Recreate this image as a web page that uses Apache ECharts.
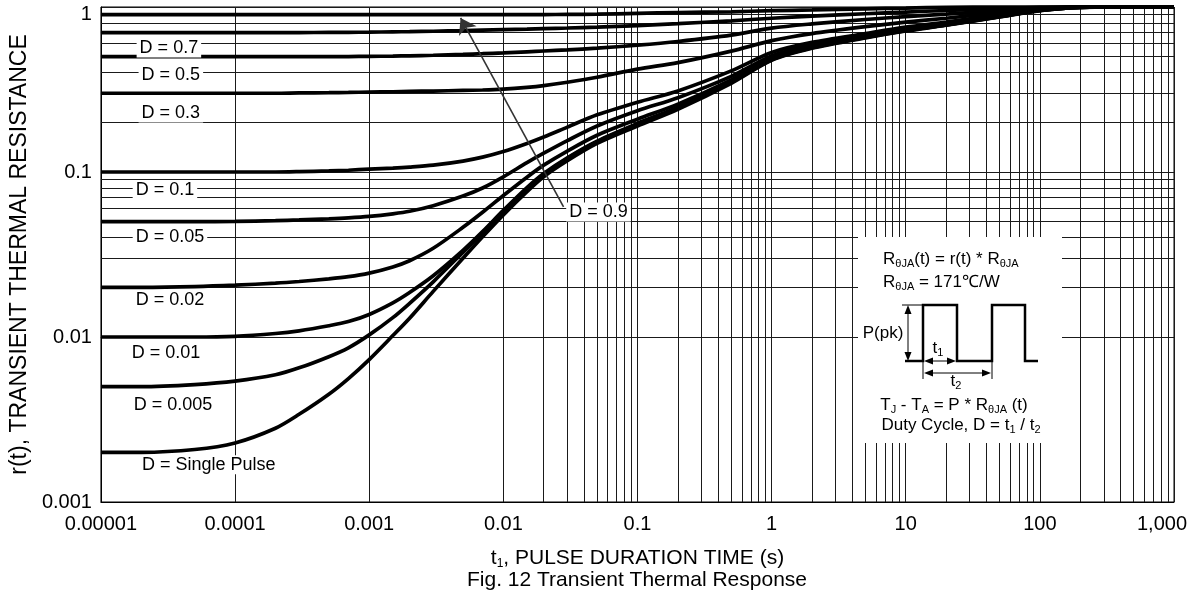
<!DOCTYPE html>
<html>
<head>
<meta charset="utf-8">
<script src="https://cdn.jsdelivr.net/npm/echarts@6/dist/echarts.min.js"></script>
<style>html,body{margin:0;padding:0;background:#fff}#c{width:1199px;height:596px}</style>
</head>
<body>
<div id="c"></div>
<script>
// ---- data ----
const times = [1e-5, 2e-5, 5e-5, 1e-4, 2e-4, 3e-4, 5e-4, 7e-4, 1e-3, 1.5e-3, 2e-3, 3e-3, 5e-3, 7e-3,
  1e-2, 1.5e-2, 2e-2, 3e-2, 5e-2, 0.1, 0.2, 0.5, 1, 2, 5, 10, 20, 50, 100, 200, 500, 1000];

const rD09 = [0.9, 0.9, 0.9, 0.9, 0.9, 0.9, 0.9, 0.9, 0.9, 0.9, 0.9, 0.9, 0.9, 0.9, 0.9, 0.9, 0.9, 0.902, 0.905,
  0.915, 0.925, 0.935, 0.95, 0.96, 0.975, 0.985, 0.995, 1.0, 1.0, 1.0, 1.0, 1.0];
const rD07 = [0.7, 0.7, 0.7, 0.7, 0.7, 0.7, 0.701, 0.702, 0.704, 0.707, 0.709, 0.713, 0.719, 0.724, 0.729, 0.735,
  0.74, 0.746, 0.755, 0.772, 0.793, 0.825, 0.855, 0.88, 0.91, 0.932, 0.952, 0.978, 0.995, 1.0, 1.0, 1.0];
const rD05 = [0.5, 0.5, 0.5, 0.5, 0.5, 0.5, 0.5, 0.501, 0.502, 0.504, 0.506, 0.51, 0.516, 0.521, 0.527, 0.535,
  0.541, 0.55, 0.563, 0.587, 0.618, 0.675, 0.745, 0.79, 0.84, 0.875, 0.905, 0.95, 0.985, 1.0, 1.0, 1.0];
const rD03 = [0.3, 0.3, 0.3, 0.3, 0.3, 0.3015, 0.3025, 0.3035, 0.305, 0.3065, 0.308, 0.3095, 0.312, 0.314, 0.318,
  0.326, 0.334, 0.35, 0.375, 0.42, 0.46, 0.54, 0.625, 0.69, 0.76, 0.81, 0.855, 0.925, 0.975, 0.999, 1.0, 1.0];
const rD01 = [0.1, 0.1, 0.1, 0.1, 0.1, 0.1005, 0.1015, 0.1025, 0.104, 0.1055, 0.107, 0.11, 0.1165, 0.123, 0.133,
  0.149, 0.163, 0.187, 0.222, 0.265, 0.31, 0.41, 0.53, 0.61, 0.69, 0.755, 0.81, 0.9, 0.965, 0.998, 1.0, 1.0];
const rD005 = [0.05, 0.05, 0.05, 0.0502, 0.0507, 0.0512, 0.052, 0.0527, 0.0538, 0.0558, 0.0578, 0.0625, 0.0715,
  0.08, 0.0935, 0.114, 0.13, 0.155, 0.19, 0.235, 0.282, 0.38, 0.505, 0.59, 0.675, 0.74, 0.795, 0.886, 0.96, 0.997, 1.0, 1.0];
const rD002 = [0.02, 0.02, 0.0202, 0.0206, 0.0212, 0.0217, 0.0225, 0.0232, 0.0244, 0.0266, 0.029, 0.0345, 0.0462,
  0.057, 0.072, 0.093, 0.11, 0.134, 0.167, 0.209, 0.258, 0.362, 0.49, 0.575, 0.662, 0.727, 0.785, 0.878, 0.955, 0.996, 1.0, 1.0];
const rD001 = [0.01, 0.01, 0.01, 0.0101, 0.0105, 0.0109, 0.0117, 0.0124, 0.0137, 0.0161, 0.0186, 0.0235, 0.0335,
  0.0435, 0.0585, 0.0805, 0.098, 0.122, 0.154, 0.197, 0.247, 0.352, 0.482, 0.57, 0.656, 0.721, 0.78, 0.875, 0.953, 0.996, 1.0, 1.0];
const rD0005 = [0.005, 0.005, 0.00515, 0.0054, 0.0059, 0.0065, 0.0076, 0.0086, 0.0103, 0.0131, 0.016, 0.0216,
  0.0326, 0.0429, 0.0575, 0.0789, 0.0965, 0.1206, 0.152, 0.194, 0.244, 0.349, 0.478, 0.566, 0.653, 0.718, 0.778,
  0.873, 0.952, 0.996, 1.0, 1.0];
const rSingle = [0.002, 0.002, 0.00208, 0.00228, 0.0028, 0.0034, 0.0045, 0.0056, 0.0073, 0.0102, 0.013, 0.0189,
  0.03, 0.0405, 0.055, 0.076, 0.0935, 0.117, 0.149, 0.19, 0.24, 0.345, 0.475, 0.562, 0.65, 0.715, 0.775, 0.87,
  0.95, 0.995, 1.0, 1.0];

const seriesNames = ['D = 0.9', 'D = 0.7', 'D = 0.5', 'D = 0.3', 'D = 0.1', 'D = 0.05', 'D = 0.02',
  'D = 0.01', 'D = 0.005', 'D = Single Pulse'];
const curves = [rD09, rD07, rD05, rD03, rD01, rD005, rD002, rD001, rD0005, rSingle];

const xTickLabels = ['0.00001', '0.0001', '0.001', '0.01', '0.1', '1', '10', '100', '1,000'];
const yTickLabels = ['0.001', '0.01', '0.1', '1'];
const xDecades = [1e-5, 1e-4, 1e-3, 1e-2, 0.1, 1, 10, 100];
const yDecades = [0.001, 0.01, 0.1];
const minorMultipliers = [2, 3, 4, 5, 6, 7, 8, 9];

// annotation anchors, in data units [t, r(t)]
const curveLabelAnchors = [
  [0.0512, 0.0572], [3.21e-5, 0.564], [3.32e-5, 0.387], [3.32e-5, 0.228], [3.0e-5, 0.0778],
  [3.27e-5, 0.0404], [3.27e-5, 0.0168], [3.05e-5, 0.0080], [3.44e-5, 0.00387], [6.37e-5, 0.00168]
];
const arrowFrom = [0.0281, 0.0614];
const arrowTo = [0.0048, 0.858];

// ---- chart ----
const FONT = 'Liberation Sans, Arial, Helvetica, sans-serif';
const GRID_COLOR = '#1a1a1a';
const xMinor = xDecades.flatMap(d => minorMultipliers.map(m => +(d * m).toPrecision(3)));
const yMinor = yDecades.flatMap(d => minorMultipliers.map(m => +(d * m).toPrecision(3)));

const chart = echarts.init(document.getElementById('c'), null, {renderer: 'canvas'});

const curveSeries = curves.map((vals, i) => ({
  type: 'line',
  name: seriesNames[i],
  data: times.map((t, j) => [t, vals[j]]),
  showSymbol: false,
  symbol: 'none',
  smooth: 0.3,
  clip: false,
  silent: true,
  z: 3,
  lineStyle: {color: '#000', width: 3.7},
  markPoint: {
    z: 5,
    silent: true,
    symbol: 'rect',
    symbolSize: 1,
    itemStyle: {color: 'rgba(0,0,0,0)'},
    label: {
      show: true, position: 'inside', formatter: seriesNames[i],
      fontFamily: FONT, fontSize: 18, color: '#000',
      backgroundColor: '#fff', padding: [1, 3, 0, 3]
    },
    data: [{coord: curveLabelAnchors[i]}]
  }
}));

const gridSeries = {
  type: 'line',
  data: [[1e-5, 0.001]],
  symbol: 'none',
  silent: true,
  lineStyle: {opacity: 0},
  z: 1,
  markLine: {
    z: 1,
    silent: true,
    animation: false,
    symbol: 'none',
    label: {show: false},
    emphasis: {disabled: true},
    lineStyle: {color: GRID_COLOR, width: 1, type: 'solid'},
    data: [...xMinor.map(v => ({xAxis: v})), ...yMinor.map(v => ({yAxis: v}))]
  }
};

const arrowSeries = {
  type: 'line',
  data: [[1e-5, 0.001]],
  symbol: 'none',
  silent: true,
  lineStyle: {opacity: 0},
  z: 6,
  markLine: {
    z: 6,
    silent: true,
    animation: false,
    symbol: ['none', 'arrow'],
    symbolSize: 15,
    label: {show: false},
    emphasis: {disabled: true},
    lineStyle: {color: '#333', width: 1.6, type: 'solid', opacity: 1},
    itemStyle: {color: '#333', opacity: 1},
    data: [[{coord: arrowFrom}, {coord: arrowTo}]]
  }
};

// inset diagram (pixel-space annotation)
const m = {fontSize: 17, fontFamily: FONT, lineHeight: 20, fill: '#000'};
const s = {fontSize: 11, fontFamily: FONT, lineHeight: 11, verticalAlign: 'bottom', fill: '#000'};
function txt(text, x, y, align) {
  return {type: 'text', z: 102, silent: true,
    style: {text, x, y, align: align || 'center', textAlign: align || 'center',
      verticalAlign: 'middle', textVerticalAlign: 'middle', rich: {m, s}, fill: '#000', fontSize: 17, fontFamily: FONT}};
}
function line(points, w) {
  return {type: 'polyline', z: 101, silent: true, shape: {points}, style: {stroke: '#000', lineWidth: w || 1, fill: null}};
}
function tri(points) {
  return {type: 'polygon', z: 101, silent: true, shape: {points}, style: {fill: '#000'}};
}
const inset = [
  {type: 'rect', z: 100, silent: true, shape: {x: 858, y: 237, width: 204, height: 206}, style: {fill: '#fff'}},
  txt('{m|R}{s|θJA}{m|(t) = r(t) * R}{s|θJA}', 883, 259, 'left'),
  txt('{m|R}{s|θJA}{m| = 171℃/W}', 883, 282, 'left'),
  line([[905, 361], [923, 361], [923, 305], [957, 305], [957, 361], [992, 361], [992, 305], [1025, 305], [1025, 361], [1038, 361]], 2.5),
  line([[902, 305], [923, 305]], 1),
  line([[908, 312], [908, 354]], 1),
  tri([[908, 305], [904.5, 314], [911.5, 314]]),
  tri([[908, 361], [904.5, 352], [911.5, 352]]),
  line([[923, 361], [923, 379]], 1),
  line([[992, 361], [992, 379]], 1),
  line([[930, 361], [950, 361]], 1),
  tri([[924, 361], [933, 357.5], [933, 364.5]]),
  tri([[956, 361], [947, 357.5], [947, 364.5]]),
  line([[930, 373], [985, 373]], 1),
  tri([[924, 373], [933, 369.5], [933, 376.5]]),
  tri([[991, 373], [982, 369.5], [982, 376.5]]),
  txt('{m|P(pk)}', 883, 333),
  txt('{m|t}{s|1}', 938, 348),
  txt('{m|t}{s|2}', 956, 381),
  txt('{m|T}{s|J}{m| - T}{s|A}{m| = P * R}{s|θJA}{m| (t)}', 954, 405),
  txt('{m|Duty Cycle, D = t}{s|1}{m| / t}{s|2}', 961, 425),
  {type: 'text', z: 102, silent: true,
    style: {text: 'Fig. 12 Transient Thermal Response', x: 637, y: 580, align: 'center', textAlign: 'center',
      verticalAlign: 'middle', textVerticalAlign: 'middle', fontSize: 21, fontFamily: FONT, fill: '#000'}}
];

const option = {
  animation: false,
  backgroundColor: '#fff',
  grid: {left: 100, right: 25, top: 7, bottom: 94, show: true, borderColor: '#000', borderWidth: 1, backgroundColor: 'transparent'},
  xAxis: {
    type: 'log', logBase: 10, min: 1e-5, max: 1000,
    axisLine: {show: true, lineStyle: {color: '#000', width: 1}},
    axisTick: {show: false},
    splitLine: {show: true, lineStyle: {color: GRID_COLOR, width: 1}},
    axisLabel: {
      margin: 12, fontSize: 20, fontFamily: FONT, color: '#000',
      formatter: v => {
        const i = Math.round(Math.log10(v)) + 5;
        const t = xTickLabels[i];
        return i === xTickLabels.length - 1 ? '{last|' + t + '}' : t;
      },
      rich: {last: {fontSize: 20, fontFamily: FONT, color: '#000', padding: [0, 24, 0, 0]}}
    },
    name: '{a|t}{b|1}{a|, PULSE DURATION TIME (s)}',
    nameLocation: 'middle',
    nameGap: 44,
    nameTextStyle: {
      rich: {
        a: {fontSize: 21, fontFamily: FONT, color: '#000', lineHeight: 24},
        b: {fontSize: 12, fontFamily: FONT, color: '#000', lineHeight: 12, verticalAlign: 'bottom'}
      }
    }
  },
  yAxis: {
    type: 'log', logBase: 10, min: 0.001, max: 1,
    axisLine: {show: true, lineStyle: {color: '#000', width: 1}},
    axisTick: {show: false},
    splitLine: {show: true, lineStyle: {color: GRID_COLOR, width: 1}},
    axisLabel: {
      margin: 9, fontSize: 20, fontFamily: FONT, color: '#000',
      formatter: v => {
        const i = Math.round(Math.log10(v)) + 3;
        const t = yTickLabels[i];
        return i === yTickLabels.length - 1 ? '{top|' + t + '}' : t;
      },
      rich: {top: {fontSize: 20, fontFamily: FONT, color: '#000', padding: [14, 0, 0, 0]}}
    },
    name: 'r(t), TRANSIENT THERMAL RESISTANCE',
    nameLocation: 'middle',
    nameGap: 66,
    nameTextStyle: {fontSize: 23, fontFamily: FONT, color: '#000'}
  },
  series: [gridSeries, ...curveSeries, arrowSeries],
  graphic: {elements: inset}
};
chart.setOption(option);
</script>
</body>
</html>
